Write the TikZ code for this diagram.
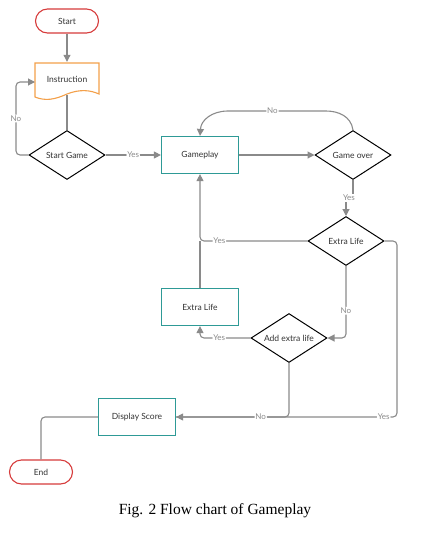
\documentclass[tikz,border=0pt]{standalone}
\usepackage{fontspec}
\setmainfont{Lato}
\newfontfamily\capfont{Liberation Serif}
\usetikzlibrary{arrows.meta,shapes.geometric}
\definecolor{termred}{HTML}{D63B3B}
\definecolor{docorange}{HTML}{F3A04A}
\definecolor{procteal}{HTML}{2E9A96}
\definecolor{linegray}{HTML}{8A8A8A}
\definecolor{txt}{HTML}{333333}
\begin{document}
\begin{tikzpicture}[x=1pt,y=-1pt,
  every node/.style={font=\fontsize{8.5}{10}\selectfont, text=txt},
  term/.style={draw=termred, line width=1.1pt, rounded corners=12pt, minimum width=63pt, minimum height=24pt, inner sep=0pt},
  proc/.style={draw=procteal, line width=1.2pt, minimum width=77pt, minimum height=37pt, inner sep=0pt},
  dec/.style={diamond, draw=black, line width=1pt, minimum width=76pt, minimum height=49pt, inner sep=0pt, aspect=1.55},
  conn/.style={draw=linegray, line width=1.1pt, rounded corners=4pt},
  arr/.style={conn, -{Triangle[length=7pt,width=7pt]}},
  lbl/.style={fill=white, inner sep=1pt, text=linegray, font=\fontsize{8}{9}\selectfont}
]
\useasboundingbox (0,0) rectangle (421,536);

\node[term] (start) at (67,21) {Start};
\node[minimum width=64pt, minimum height=34pt, inner sep=0pt] (ins) at (67,79) {Instruction};
\draw[docorange, line width=1.1pt]
  (35,63) -- (99,63) -- (99,94)
  .. controls (90,90) and (80,89) .. (67,94)
  .. controls (54,100) and (45,101) .. (35,97) -- cycle;
\node[dec] (sg) at (67,155) {Start Game};
\node[proc] (gp) at (200,155) {Gameplay};
\node[dec] (go) at (353,155) {Game over};
\node[dec] (eld) at (346,241) {Extra Life};
\node[proc] (elb) at (200,307) {Extra Life};
\node[dec] (ael) at (289,338) {Add extra life};
\node[proc] (ds) at (137,417) {Display Score};
\node[term] (end) at (41,472) {End};

\coordinate (insL) at (35,82);
\coordinate (insB) at (67,95);

% connectors
\draw[arr] (start) -- (ins.north);
\draw[conn] (insB) -- (sg.north);
\draw[arr] (sg.west) -- (16,155) -- node[lbl, pos=0.5]{No} (16,82) -- (insL);
\draw[arr] (sg.east) -- node[lbl, pos=0.5]{Yes} (gp.west);
\draw[arr] (gp.east) -- (go.west);
\draw[arr] (go.north) .. controls (351,116) and (338,111) .. (322,111) -- node[lbl, pos=0.55]{No} (232,111) .. controls (212,111) and (201,120) .. (gp.north);
\coordinate (yb1) at (353,198);
\coordinate (yb2) at (346,198);
\draw[conn] (go.south) -- (yb1);
\draw[arr] (yb2) -- (eld.north);
\node[lbl] (ylab1) at (349,198) {Yes};
\draw[arr] (eld.west) -- node[lbl, pos=0.82]{Yes} (200,241) -- (gp.south);
\draw[conn] (elb.north) -- (200,241);
\draw[arr] (eld.south) -- node[lbl, pos=0.62]{No} (346,338) -- (ael.east);
\draw[arr] (ael.west) -- node[lbl, pos=0.62]{Yes} (200,338) -- (elb.south);
\draw[arr] (eld.east) -- (397,241) -- (397,417) -- node[lbl, pos=0.06]{Yes} (ds.east);
\draw[conn] (ael.south) -- (289,417) -- node[lbl, pos=0.25]{No} (176,417);
\draw[conn] (ds.west) -- (41,417) -- (end.north);

\node[font=\capfont\fontsize{15.5}{17}\selectfont, text=black] (cap) at (215,511) {Fig. 2 Flow chart of Gameplay};
\end{tikzpicture}
\end{document}
